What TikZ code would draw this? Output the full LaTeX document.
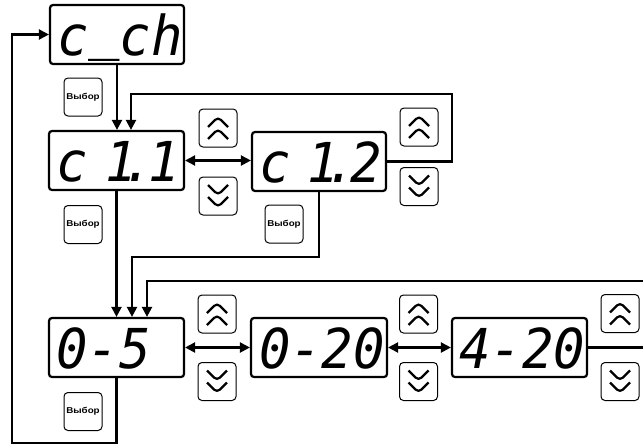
\documentclass[tikz,border=0pt]{standalone}
\usepackage{fontspec}
\usetikzlibrary{arrows.meta}
\newfontfamily\segfont{DejaVu Sans Mono}[FakeStretch=0.95]
\newfontfamily\btnfont{Liberation Sans}[FakeStretch=1.15]
\newcommand\segtxt[1]{\makebox[124pt][l]{\kern2pt#1}}
\tikzset{
  disp/.style={draw, line width=2.2pt, rounded corners=3pt, minimum width=135pt, minimum height=59pt,
    inner xsep=5pt, text height=41pt, text depth=0pt,
    font=\segfont\itshape\fontsize{55}{55}\selectfont},
  btn/.style={draw, line width=1pt, rounded corners=4pt, minimum width=38pt, minimum height=38pt, inner sep=0pt},
  selbtn/.style={btn, font=\btnfont\bfseries\fontsize{8.5}{9}\selectfont},
  chev/.style={line width=2.2pt, line join=miter},
  upbtn/.style={btn, path picture={
    \draw[chev] ([shift={(-10,-1)}]path picture bounding box.center) -- ++(10,-10) -- ++(10,10);
    \draw[chev] ([shift={(-10,11)}]path picture bounding box.center) -- ++(10,-10) -- ++(10,10);}},
  dnbtn/.style={btn, path picture={
    \draw[chev] ([shift={(-10,-11)}]path picture bounding box.center) -- ++(10,10) -- ++(10,-10);
    \draw[chev] ([shift={(-10,1)}]path picture bounding box.center) -- ++(10,10) -- ++(10,-10);}},
  conn/.style={line width=2.2pt},
  arr/.style={conn, -{Triangle[length=10pt,width=10pt]}},
  darr/.style={conn, {Triangle[length=10pt,width=10pt]}-{Triangle[length=10pt,width=10pt]}}
}
\begin{document}
\begin{tikzpicture}[x=1pt,y=-1pt]
\useasboundingbox (0,0) rectangle (643,447);
% displays
\node[disp, minimum width=134pt] (cch) at (117,34.5) {\segtxt{c\raisebox{7pt}{\_}ch}};
\node[disp] (c11) at (116.5,160.5) {\segtxt{c\ \kern-14pt1\kern-14pt.\kern-6pt1}};
\node[disp, minimum width=134pt] (c12) at (319,161.5) {\segtxt{c\ \kern-14pt1\kern-14pt.\kern-6pt2}};
\node[disp] (d05) at (116.5,347.5) {\segtxt{0-5}};
\node[disp, minimum width=136pt] (d020) at (319,347.5) {\segtxt{0-20}};
\node[disp] (d420) at (519.5,347.5) {\segtxt{4-20}};
% select buttons
\node[selbtn] (sel1) at (83,97) {Выбор};
\node[selbtn] (sel2) at (83,224.5) {Выбор};
\node[selbtn] (sel3) at (284,224) {Выбор};
\node[selbtn] (sel4) at (83,411.5) {Выбор};
% up / down buttons
\node[upbtn] (up1) at (218,128) {};
\node[dnbtn] (dn1) at (218,196) {};
\node[upbtn] (up2) at (419,127) {};
\node[dnbtn] (dn2) at (419,186.5) {};
\node[upbtn] (up3) at (217,314) {};
\node[dnbtn] (dn3) at (217,381.5) {};
\node[upbtn] (up4) at (418.5,314) {};
\node[dnbtn] (dn4) at (418.5,381.5) {};
\node[upbtn] (up5) at (620,313.5) {};
\node[dnbtn] (dn5) at (620,381.5) {};
% coordinates
\coordinate (r1) at (452,94);
\coordinate (t1) at (131,94);
\coordinate (t2) at (132,257);
\coordinate (t3) at (147,281);
\coordinate (e1) at (643,347.5);
\coordinate (e2) at (643,281);
\coordinate (b1) at (12,443);
% connectors
\draw[arr] (cch.south) -- (cch.south |- c11.north);
\draw[arr] (c12.east) -| (r1) -- (t1) -- (t1 |- c11.north);
\draw[darr] (c11.east) -- (c11.east -| c12.west);
\draw[arr] (c11.south) -- (c11.south |- d05.north);
\draw[arr] (c12.south) |- (t2) -- (t2 |- d05.north);
\draw[conn] (d420.east) -- (e1);
\draw[arr] (e2) -- (t3) -- (t3 |- d05.north);
\draw[darr] (d05.east) -- (d020.west);
\draw[darr] (d020.east) -- (d420.west);
\draw[arr] (d05.south) |- (b1) |- (cch.west);
\end{tikzpicture}
\end{document}
